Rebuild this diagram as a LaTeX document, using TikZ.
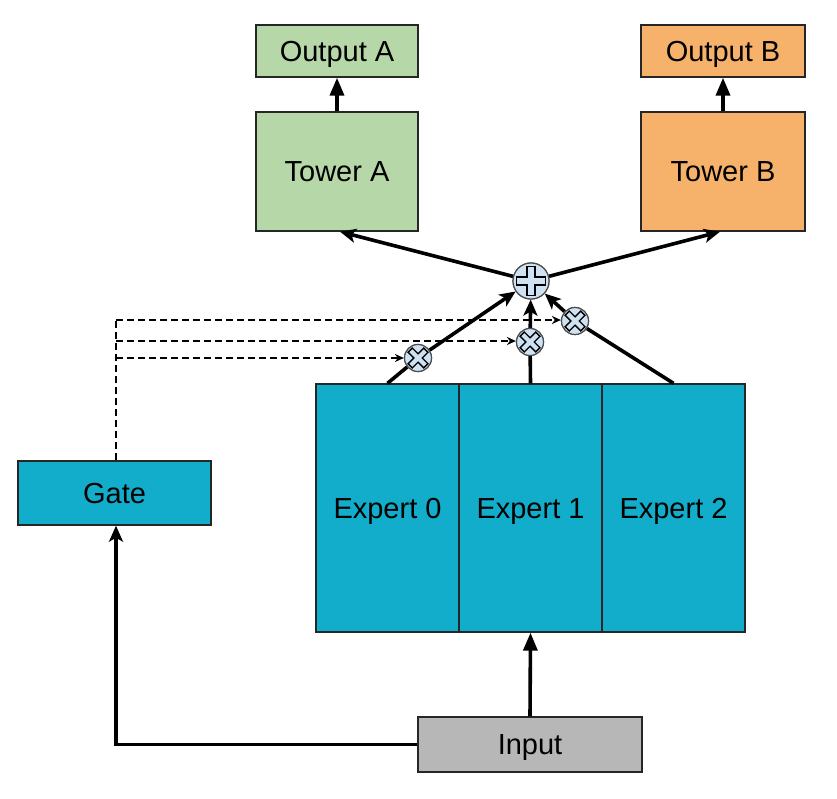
\documentclass[tikz,border=0pt]{standalone}
\usepackage{fontspec}
\setmainfont{Liberation Sans}
\usetikzlibrary{arrows.meta}
\definecolor{cgreen}{HTML}{B6D7A8}
\definecolor{corange}{HTML}{F6B26B}
\definecolor{cteal}{HTML}{12ADCA}
\definecolor{cgray}{HTML}{B7B7B7}
\definecolor{clight}{HTML}{CFE2F3}
\tikzset{
  box/.style={draw=black!85, line width=1.4pt, minimum width=#1, inner sep=0pt, text height=20.8pt, text depth=0pt, font=\fontsize{29}{33}\selectfont},
  conn/.style={line width=3.6pt, -{Stealth[length=16pt,width=14pt,inset=4pt]}},
  tconn/.style={line width=3.6pt, -{Triangle[length=18pt,width=14pt]}},
  plainconn/.style={line width=3.6pt},
  gateline/.style={line width=1.4pt, dash pattern=on 7pt off 4pt},
  gatearrow/.style={gateline, -{Stealth[length=9pt,width=8pt]}},
  opnode/.style={circle, draw=black!70, fill=clight, line width=1.2pt, minimum size=#1, inner sep=0pt},
}
\newcommand{\plusshape}[2]{% center, scale
  \filldraw[fill=clight, draw=black, line width=1.5pt, shift={(#1)}, scale=#2]
    (-3,-11)--(3,-11)--(3,-3)--(11,-3)--(11,3)--(3,3)--(3,11)--(-3,11)--(-3,3)--(-11,3)--(-11,-3)--(-3,-3)--cycle;}
\newcommand{\crossshape}[2]{%
  \filldraw[fill=clight, draw=black, line width=1.4pt, shift={(#1)}, scale=#2, rotate=45]
    (-3,-11)--(3,-11)--(3,-3)--(11,-3)--(11,3)--(3,3)--(3,11)--(-3,11)--(-3,3)--(-11,3)--(-11,-3)--(-3,-3)--cycle;}
\begin{document}
\begin{tikzpicture}[x=1pt,y=-1pt]
\useasboundingbox (0,0) rectangle (837,799);
% boxes
\node[box=162pt, minimum height=52pt, fill=cgreen] (outA) at (337,51) {Output A};
\node[box=162pt, minimum height=119pt, fill=cgreen] (towA) at (337,171.5) {Tower A};
\node[box=164pt, minimum height=52pt, fill=corange] (outB) at (723,51) {Output B};
\node[box=164pt, minimum height=119pt, fill=corange] (towB) at (723,171.5) {Tower B};
\node[box=143pt, minimum height=248pt, fill=cteal] (e0) at (387.5,508) {Expert 0};
\node[box=143pt, minimum height=248pt, fill=cteal] (e1) at (530.5,508) {Expert 1};
\node[box=143pt, minimum height=248pt, fill=cteal] (e2) at (673.5,508) {Expert 2};
\node[box=193pt, minimum height=64pt, fill=cteal] (gate) at (114.5,493) {Gate};
\node[box=224pt, minimum height=55pt, fill=cgray] (input) at (530,744.5) {Input};
% operators
\node[opnode=36pt] (sum) at (531,281) {};
\node[opnode=27pt] (m0) at (418,358) {};
\node[opnode=27pt] (m1) at (530,342) {};
\node[opnode=27pt] (m2) at (575,321) {};
% connectors
\coordinate (gcorner) at (116,744.5);
\coordinate (gtop) at (116,320);
\coordinate (g1) at (116,341);
\coordinate (g0) at (116,358);
\draw[tconn] (input.north) -- (e1.south);
\draw[conn] (input.west) -- (gcorner) -- (gate.south -| gcorner);
\draw[plainconn] (e0.north) -- (m0);
\draw[conn] (m0) -- (sum);
\draw[plainconn] (e1.north) -- (m1);
\draw[conn] (m1) -- (sum);
\draw[plainconn] (e2.north) -- (m2);
\draw[conn] (m2) -- (sum);
\draw[conn] (sum) -- (towA.south -| 340,0);
\draw[conn] (sum) -- (towB.south -| 720,0);
\draw[tconn] (towA.north) -- (outA.south);
\draw[tconn] (towB.north) -- (outB.south);
% gate dashed
\draw[gateline] (gate.north -| gtop) -- (gtop);
\draw[gatearrow] (gtop) -- (m2.west |- gtop);
\draw[gatearrow] (g1) -- (m1.west |- g1);
\draw[gatearrow] (g0) -- (m0.west);
% operator symbols on top
\node[opnode=36pt] at (sum) {};
\node[opnode=27pt] at (m0) {};
\node[opnode=27pt] at (m1) {};
\node[opnode=27pt] at (m2) {};
\plusshape{sum.center}{1.3}
\crossshape{m0.center}{1.0}
\crossshape{m1.center}{1.0}
\crossshape{m2.center}{1.0}
\end{tikzpicture}
\end{document}
